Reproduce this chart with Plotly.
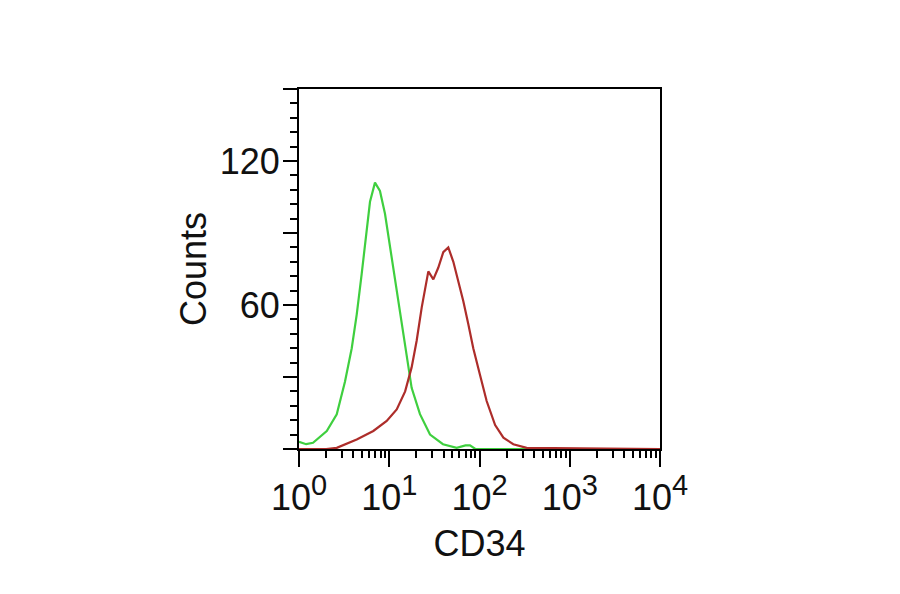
import plotly.graph_objects as go

# Green (isotype control) histogram: fluorescence channel values and counts
green_x = [1.0, 1.2, 1.43, 2.03, 2.62, 3.23, 3.84, 4.36, 4.95, 5.63, 6.12, 6.95,
           7.89, 8.97, 10.2, 11.6, 13.2, 15.0, 17.7, 21.9, 28.3, 39.4, 55.9,
           70.0, 78.5, 90.0, 130.7, 10000]
green_y = [3, 2, 2.6, 7.5, 14.5, 28, 42, 56, 73, 91, 103, 111,
           107.5, 98, 84, 70, 56, 42, 25.5, 14.5, 6, 2, 0.5,
           1.5, 1.5, 0, 0, 0]

# Red (CD34 stained) histogram
red_x = [1.0, 2.0, 2.62, 4.36, 6.66, 9.37, 12.1, 15.0, 17.7, 20.1, 22.9, 26.0,
         27.1, 30.8, 34.9, 39.7, 45.1, 51.3, 58.2, 66.1, 75.2, 85.3, 101,
         120, 149, 184, 237, 333, 10000]
red_y = [0, 0, 0.5, 4, 7.5, 11.7, 16.5, 24, 34, 45, 59, 70,
         74, 70.7, 75.5, 82, 84, 78, 70, 61.7, 52, 42, 31,
         20, 10, 4.7, 2, 0.5, 0]

x_major = [1, 10, 100, 1000, 10000]
x_exponents = ["0", "1", "2", "3", "4"]
x_major_text = ["10<sup><span style='font-size:29px'>%s</span></sup>" % e
                for e in x_exponents]
x_minor = [m * d for d in [1, 10, 100, 1000] for m in range(2, 10)]

y_major = [0, 30, 60, 90, 120, 150]
y_major_text = ["", "", "60", "", "120", ""]
y_minor = [v for v in range(0, 151, 6) if v % 30 != 0]

fig = go.Figure()
fig.add_trace(go.Scatter(x=green_x, y=green_y, mode="lines",
                         line=dict(color="#3fcf3f", width=2.2), showlegend=False))
fig.add_trace(go.Scatter(x=red_x, y=red_y, mode="lines",
                         line=dict(color="#ad2d2a", width=2.2), showlegend=False))

font_main = dict(family="Liberation Sans, Arial, sans-serif", size=36, color="#111")

fig.update_layout(
    width=900, height=594,
    margin=dict(l=291, r=248, t=81, b=153),
    paper_bgcolor="white", plot_bgcolor="white",
    font=font_main,
)
fig.update_xaxes(
    type="log", range=[0, 4],
    showline=True, mirror=True, linecolor="black", linewidth=2,
    showgrid=False, zeroline=False,
    ticks="outside", ticklen=16, tickwidth=2, tickcolor="black",
    tickmode="array", tickvals=x_major, ticktext=x_major_text,
    tickfont=font_main,
    minor=dict(tickmode="array", tickvals=x_minor, ticks="outside",
               ticklen=7, tickwidth=2, tickcolor="black", showgrid=False),
    title=dict(text="CD34", font=font_main, standoff=14),
)
fig.update_yaxes(
    range=[0, 150],
    showline=True, mirror=True, linecolor="black", linewidth=2,
    showgrid=False, zeroline=False,
    ticks="outside", ticklen=14, tickwidth=2, tickcolor="black",
    tickmode="array", tickvals=y_major, ticktext=y_major_text,
    tickfont=font_main, ticklabelstandoff=-4,
    minor=dict(tickmode="array", tickvals=y_minor, ticks="outside",
               ticklen=7, tickwidth=2, tickcolor="black", showgrid=False),
    title=dict(text="Counts", font=font_main, standoff=2),
)

fig.write_html("out.html")
